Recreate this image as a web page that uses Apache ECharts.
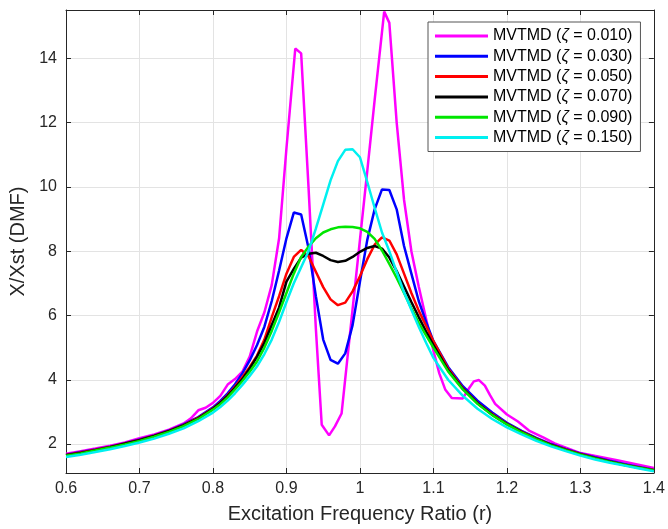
<!DOCTYPE html>
<html><head><meta charset="utf-8">
<script src="https://cdn.jsdelivr.net/npm/echarts@6/dist/echarts.min.js"></script>
<style>html,body{margin:0;padding:0;background:#fff}#c{width:668px;height:529px}</style>
</head><body><div id="c"></div>
<script>
// Frequency ratio samples shared by zeta = 0.030 ... 0.150
const ratio = [0.60,0.62,0.64,0.66,0.68,0.70,0.72,0.74,0.76,0.78,
  0.80,0.81,0.82,0.83,0.84,0.85,0.86,0.87,0.88,0.89,0.90,0.91,0.92,0.93,0.94,0.95,0.96,0.97,0.98,0.99,
  1.00,1.01,1.02,1.03,1.04,1.05,1.06,1.07,1.08,1.09,1.10,
  1.12,1.14,1.16,1.18,1.20,1.22,1.24,1.26,1.28,1.30,1.32,1.34,1.36,1.38,1.40];
// Frequency ratio samples for zeta = 0.010
const ratioZ010 = [0.60,0.62,0.64,0.66,0.68,0.70,0.72,0.74,0.76,
  0.77,0.78,0.79,0.80,0.81,0.82,0.83,0.84,0.85,0.86,0.87,0.88,0.89,0.90,
  0.912,0.92,0.93,0.94,0.948,0.958,0.966,0.975,
  0.99,1.00,1.01,1.02,1.033,1.04,1.05,1.06,1.07,1.08,1.09,1.10,
  1.108,1.116,1.125,1.14,1.148,1.155,1.162,1.17,1.177,1.184,
  1.20,1.215,1.23,1.25,1.265,1.30,1.35,1.40];
const dmfZ010 = [1.70,1.78,1.86,1.95,2.05,2.18,2.30,2.45,2.64,
  2.80,3.05,3.13,3.28,3.50,3.85,4.02,4.25,4.72,5.50,6.10,6.95,8.40,11.2,
  14.3,14.15,10.0,5.6,2.6,2.27,2.55,2.95,
  6.2,8.35,10.5,12.7,15.45,15.1,12.0,9.6,8.0,6.9,5.9,4.9,
  4.2,3.7,3.43,3.42,3.72,3.95,3.99,3.82,3.52,3.25,
  2.92,2.70,2.42,2.20,2.02,1.72,1.50,1.26];
const dmfZ030 = [1.67,1.75,1.83,1.92,2.03,2.14,2.27,2.42,2.61,2.84,
  3.14,3.34,3.58,3.86,4.20,4.60,5.08,5.65,6.45,7.40,8.40,9.20,9.14,8.10,6.60,5.25,4.62,4.50,4.82,5.70,
  7.05,8.35,9.30,9.92,9.90,9.30,8.16,7.30,6.45,5.80,5.20,
  4.40,3.80,3.35,2.98,2.66,2.41,2.19,2.00,1.85,1.71,1.59,1.48,1.38,1.29,1.20];
const dmfZ050 = [1.66,1.74,1.82,1.91,2.02,2.13,2.26,2.41,2.59,2.82,
  3.11,3.29,3.52,3.78,4.08,4.40,4.75,5.25,5.95,6.60,7.30,7.82,8.04,7.84,7.36,6.88,6.50,6.32,6.40,6.75,
  7.22,7.75,8.20,8.43,8.33,7.90,7.30,6.70,6.15,5.68,5.20,
  4.35,3.74,3.28,2.93,2.63,2.39,2.17,1.98,1.83,1.69,1.57,1.46,1.36,1.27,1.19];
const dmfZ070 = [1.65,1.72,1.81,1.90,2.01,2.12,2.25,2.40,2.58,2.80,
  3.10,3.28,3.50,3.75,4.02,4.35,4.72,5.15,5.70,6.25,7.05,7.45,7.80,7.92,7.95,7.85,7.72,7.66,7.70,7.82,
  7.98,8.10,8.16,8.08,7.80,7.38,6.90,6.42,5.95,5.50,5.08,
  4.30,3.72,3.27,2.91,2.62,2.37,2.16,1.97,1.82,1.68,1.56,1.45,1.35,1.26,1.18];
const dmfZ090 = [1.64,1.71,1.80,1.89,1.99,2.10,2.23,2.38,2.56,2.78,
  3.07,3.24,3.45,3.70,3.96,4.25,4.57,5.00,5.52,6.10,6.70,7.30,7.82,8.14,8.40,8.58,8.68,8.74,8.76,8.75,
  8.71,8.60,8.38,8.02,7.60,7.17,6.70,6.22,5.77,5.38,5.00,
  4.26,3.70,3.25,2.90,2.61,2.36,2.15,1.96,1.81,1.67,1.55,1.44,1.35,1.26,1.18];
const dmfZ150 = [1.60,1.67,1.75,1.84,1.94,2.05,2.17,2.32,2.49,2.71,
  2.98,3.15,3.35,3.58,3.84,4.12,4.42,4.80,5.25,5.80,6.42,7.00,7.50,8.00,8.70,9.45,10.2,10.8,11.15,11.17,
  10.92,10.15,9.35,8.58,8.00,7.35,6.72,6.18,5.65,5.15,4.68,
  4.00,3.50,3.10,2.78,2.52,2.30,2.10,1.93,1.78,1.64,1.52,1.42,1.33,1.24,1.15];
const seriesNames = ['MVTMD (ζ = 0.010)','MVTMD (ζ = 0.030)','MVTMD (ζ = 0.050)',
  'MVTMD (ζ = 0.070)','MVTMD (ζ = 0.090)','MVTMD (ζ = 0.150)'];
const xTickLabels = ['0.6','0.7','0.8','0.9','1','1.1','1.2','1.3','1.4'];
const yTickLabels = ['2','4','6','8','10','12','14'];

const colors = ['#ff00ff','#0000ff','#ff0000','#000000','#00e600','#00f0f0'];
const xs = [ratioZ010, ratio, ratio, ratio, ratio, ratio];
const ys = [dmfZ010, dmfZ030, dmfZ050, dmfZ070, dmfZ090, dmfZ150];

const FONT = '"Liberation Sans", Helvetica, Arial, sans-serif';
const TXT = '#262626';
const chart = echarts.init(document.getElementById('c'), null, {renderer: 'canvas'});

const xBase = {type: 'value', min: 0.6, max: 1.4, interval: 0.1,
  axisLine: {show: true, onZero: false, lineStyle: {color: TXT, width: 1}},
  axisTick: {show: true, inside: true, length: 5, lineStyle: {color: TXT}}};
const yBase = {type: 'value', min: 1.1, max: 15.5, splitNumber: 7,
  axisLine: {show: true, onZero: false, lineStyle: {color: TXT, width: 1}},
  axisTick: {show: true, inside: true, length: 5, lineStyle: {color: TXT}}};

const option = {
  animation: false,
  backgroundColor: '#fff',
  grid: {left: 66, right: 13, top: 10, bottom: 54},
  xAxis: [
    Object.assign({}, xBase, {position: 'bottom',
      name: 'Excitation Frequency Ratio (r)', nameLocation: 'middle', nameGap: 31,
      nameTextStyle: {fontFamily: FONT, fontSize: 20, color: TXT},
      axisLabel: {fontFamily: FONT, fontSize: 16, color: TXT, margin: 8,
        formatter: v => xTickLabels[Math.round((v - 0.6) * 10)] || ''},
      splitLine: {show: true, lineStyle: {color: '#e3e3e3', width: 1}}}),
    Object.assign({}, xBase, {position: 'top', axisLabel: {show: false}, splitLine: {show: false}})
  ],
  yAxis: [
    Object.assign({}, yBase, {position: 'left',
      name: 'X/Xst (DMF)', nameLocation: 'middle', nameGap: 33,
      nameTextStyle: {fontFamily: FONT, fontSize: 20, color: TXT},
      axisLabel: {fontFamily: FONT, fontSize: 16, color: TXT, margin: 9,
        showMinLabel: false, showMaxLabel: false,
        formatter: v => { const i = yTickLabels.indexOf(String(Math.round(v))); return (Math.abs(v - Math.round(v)) < 1e-6 && i >= 0) ? yTickLabels[i] : ''; }},
      splitLine: {show: true, lineStyle: {color: '#e3e3e3', width: 1}}}),
    Object.assign({}, yBase, {position: 'right', axisLabel: {show: false}, splitLine: {show: false}})
  ],
  legend: {
    orient: 'vertical', left: 428, top: 22,
    padding: [4, 8, 4, 7], itemGap: 0.3, itemWidth: 53, itemHeight: 3, itemTextGap: 6,
    icon: 'rect',
    backgroundColor: '#fff', borderColor: '#555', borderWidth: 1, borderRadius: 0,
    data: seriesNames,
    formatter: n => n.replace('ζ', '{z|ζ}'),
    textStyle: {fontFamily: FONT, fontSize: 16, color: '#000', lineHeight: 20,
      rich: {z: {fontFamily: FONT, fontSize: 16, fontStyle: 'italic', color: '#000', lineHeight: 20}}}
  },
  series: seriesNames.map((name, k) => ({
    name: name, type: 'line', xAxisIndex: 0, yAxisIndex: 0,
    data: xs[k].map((x, i) => [x, ys[k][i]]),
    showSymbol: false, symbol: 'none', smooth: false, clip: true,
    color: colors[k],
    lineStyle: {color: colors[k], width: 2.5},
    z: 2 + k
  }))
};
chart.setOption(option);
</script></body></html>
